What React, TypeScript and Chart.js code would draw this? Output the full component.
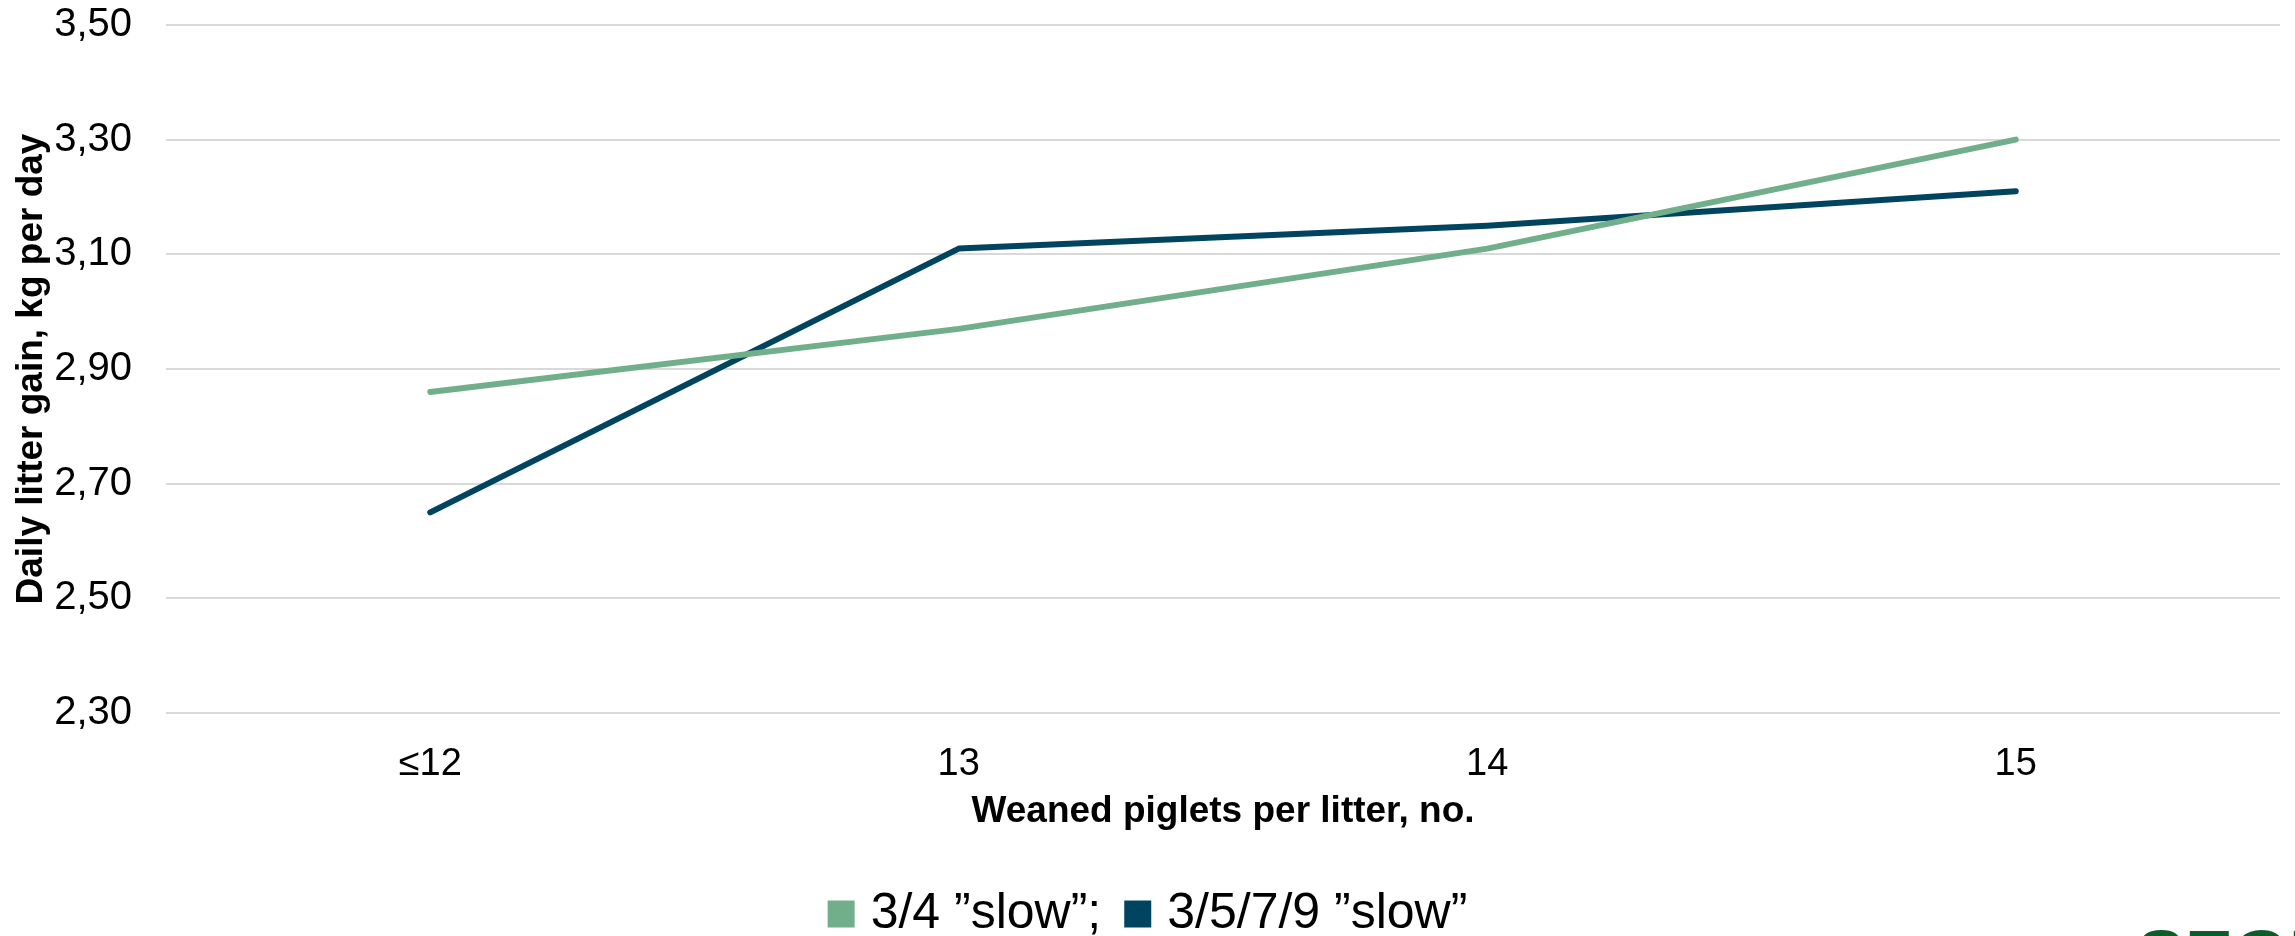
import React, { useEffect, useRef } from "react";
import { Chart, registerables } from "chart.js";

Chart.register(...registerables);

// Categories along the x axis and the two series plotted against them
const categories = ["≤12", "13", "14", "15"];
const slow34Values = [2.86, 2.97, 3.11, 3.3];
const slow3579Values = [2.65, 3.11, 3.15, 3.21];
const seriesLabels = ["3/4 ”slow”;", "3/5/7/9 ”slow”"];
const seriesColors = ["#71AE8A", "#00445F"];

// Value axis range
const yMin = 2.3;
const yMax = 3.5;
const yStep = 0.2;

const yAxisTitle = "Daily litter gain, kg per day";
const xAxisTitle = "Weaned piglets per litter, no.";
const logoText = "SEGES";

const WIDTH = 2295;
const HEIGHT = 936;
const FONT = '"Liberation Sans", Arial, sans-serif';
const TEXT = "#000000";

export default function App() {
  const canvasRef = useRef<HTMLCanvasElement | null>(null);

  useEffect(() => {
    const canvas = canvasRef.current;
    if (!canvas) return;

    const chart = new Chart(canvas, {
      type: "line",
      data: {
        labels: categories,
        datasets: [
          {
            label: seriesLabels[0],
            data: slow34Values,
            borderColor: seriesColors[0],
            backgroundColor: seriesColors[0],
          },
          {
            label: seriesLabels[1],
            data: slow3579Values,
            borderColor: seriesColors[1],
            backgroundColor: seriesColors[1],
          },
        ],
      },
      options: {
        responsive: false,
        animation: false,
        devicePixelRatio: 1,
        layout: { padding: { top: 25, left: 24, right: 15, bottom: 0 } },
        elements: {
          point: { radius: 0, hoverRadius: 0 },
          line: {
            borderWidth: 6,
            borderCapStyle: "round",
            borderJoinStyle: "round",
            tension: 0,
          },
        },
        plugins: {
          tooltip: { enabled: false },
          legend: {
            position: "bottom",
            maxHeight: 79,
            labels: {
              usePointStyle: true,
              pointStyle: "rect",
              boxWidth: 9,
              boxHeight: 27,
              padding: 32,
              color: TEXT,
              font: { family: FONT, size: 50 },
              generateLabels: (c: any) =>
                Chart.defaults.plugins.legend.labels
                  .generateLabels(c)
                  .map((item: any) => ({
                    ...item,
                    lineWidth: 0,
                    pointStyle: "rect",
                  })),
            },
          },
        },
        scales: {
          x: {
            offset: true,
            grid: { display: false },
            border: { display: false },
            ticks: {
              color: TEXT,
              padding: 21,
              font: { family: FONT, size: 38 },
            },
            title: {
              display: true,
              text: xAxisTitle,
              color: TEXT,
              font: { family: FONT, size: 37, weight: "bold" },
              padding: { top: 0, bottom: 23 },
            },
            afterFit: (scale: any) => {
              scale.height = 144;
            },
          },
          y: {
            min: yMin,
            max: yMax,
            border: { display: false },
            grid: {
              color: "#D9D9D9",
              lineWidth: 2,
              drawTicks: true,
              tickLength: 34,
              tickColor: "rgba(0,0,0,0)",
            },
            ticks: {
              stepSize: yStep,
              padding: 0,
              color: TEXT,
              font: { family: FONT, size: 40 },
              callback: (v: any) => Number(v).toFixed(2).replace(".", ","),
            },
            title: {
              display: true,
              text: yAxisTitle,
              color: TEXT,
              font: { family: FONT, size: 37, weight: "bold", lineHeight: 0.4 },
              padding: { top: 0, bottom: 0 },
            },
            afterFit: (scale: any) => {
              scale.width = 142;
            },
          },
        },
      },
    });

    return () => chart.destroy();
  }, []);

  return (
    <div
      style={{
        position: "fixed",
        left: 0,
        top: 0,
        width: WIDTH,
        height: HEIGHT,
        overflow: "hidden",
        background: "#ffffff",
      }}
    >
      <canvas
        ref={canvasRef}
        width={WIDTH}
        height={HEIGHT}
        style={{ display: "block", width: WIDTH, height: HEIGHT }}
      />
      <div
        style={{
          position: "absolute",
          left: 2137,
          top: 920,
          fontFamily: FONT,
          fontWeight: "bold",
          fontSize: 72,
          lineHeight: "72px",
          color: "#0D5C2C",
          whiteSpace: "nowrap",
        }}
      >
        {logoText}
      </div>
    </div>
  );
}
